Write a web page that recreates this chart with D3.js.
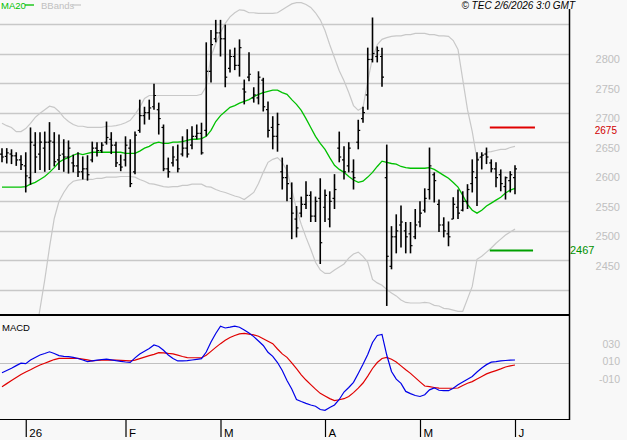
<!DOCTYPE html>
<html><head><meta charset="utf-8">
<script src="https://cdn.jsdelivr.net/npm/d3@7"></script>
<style>body{margin:0;background:#f8f8f8}svg{display:block;font-family:"Liberation Sans",Arial,sans-serif}</style>
</head><body>
<script>
// ---- data (bar index 0..108, late Dec 2025 .. 1 Jun 2026) ----
const open  = [2630,2626,2630,2627,2620,2610,2590,2645,2630,2640, 2650,2650,2620,2630,2625,2615,2610,2600,2605,2620, 2640,2636,2650,2655,2645,2612,2620,2640,2600,2670, 2695,2700,2710,2705,2675,2605,2615,2620,2630,2640, 2645,2660,2665,2670,2770,2825,2835,2825,2775,2795, 2780,2740,2760,2725,2725,2755,2705,2675,2660,2600, 2590,2555,2520,2530,2545,2560,2525,2555,2540,2520, 2555,2640,2620,2610,2600,2650,2690,2730,2790,2795, 2795,2590,2440,2490,2510,2500,2495,2490,2515,2535, 2570,2595,2545,2510,2495,2520,2540,2535,2550,2580, 2590,2625,2630,2615,2605,2595,2575,2585,2590];
const high  = [2640,2640,2638,2633,2628,2633,2675,2667,2667,2668, 2684,2667,2663,2655,2653,2629,2633,2626,2628,2651, 2650,2650,2685,2667,2651,2629,2660,2655,2668,2722, 2710,2722,2749,2717,2680,2624,2643,2646,2660,2672, 2677,2680,2683,2819,2840,2857,2857,2849,2807,2810, 2824,2756,2802,2743,2770,2759,2719,2694,2700,2624, 2612,2582,2542,2558,2584,2567,2558,2589,2570,2567, 2596,2668,2643,2650,2621,2688,2710,2810,2861,2812, 2810,2646,2508,2528,2543,2515,2515,2537,2550,2572, 2641,2599,2553,2523,2516,2557,2570,2567,2579,2621, 2633,2633,2641,2621,2616,2604,2592,2601,2611];
const low   = [2616,2614,2613,2610,2603,2565,2578,2598,2603,2600, 2603,2609,2603,2600,2597,2599,2591,2587,2585,2616, 2626,2632,2646,2630,2608,2601,2609,2574,2596,2666, 2680,2688,2705,2663,2601,2590,2609,2599,2626,2624, 2638,2655,2629,2660,2751,2819,2795,2743,2768,2772, 2761,2714,2753,2717,2714,2702,2658,2638,2634,2570, 2550,2486,2489,2523,2537,2515,2515,2444,2515,2506, 2537,2616,2587,2599,2570,2638,2683,2705,2785,2785, 2744,2373,2435,2462,2472,2462,2462,2486,2506,2531, 2553,2548,2498,2489,2474,2520,2520,2533,2537,2565, 2542,2604,2613,2599,2574,2567,2553,2565,2562];
const close = [2625,2632,2627,2620,2612,2593,2650,2625,2650,2650, 2652,2617,2628,2625,2640,2610,2600,2605,2595,2640, 2636,2645,2658,2645,2615,2608,2645,2580,2662,2695, 2700,2708,2729,2690,2605,2600,2625,2605,2640,2630, 2660,2665,2632,2770,2815,2835,2825,2760,2795,2780, 2810,2735,2765,2730,2760,2710,2670,2660,2680,2590, 2580,2530,2505,2545,2560,2525,2550,2480,2560,2550, 2570,2625,2600,2640,2590,2670,2700,2790,2800,2805, 2760,2457,2490,2500,2515,2490,2475,2510,2530,2555, 2610,2585,2510,2500,2490,2545,2530,2550,2570,2600, 2620,2628,2625,2605,2590,2580,2590,2595,2605];
const ma20  = [2574,2574,2574,2574,2574,2575,2579,2582,2587,2592, 2599,2607,2616,2621,2624,2628,2631,2629,2631,2633, 2633,2633,2633,2633,2633,2633,2631,2631,2631,2635, 2640,2643,2648,2650,2648,2648,2650,2650,2651,2653, 2655,2655,2656,2660,2670,2685,2695,2702,2709,2712, 2716,2719,2722,2727,2731,2734,2736,2738,2738,2734, 2731,2722,2714,2704,2690,2675,2660,2648,2638,2624, 2611,2604,2599,2592,2586,2582,2584,2591,2599,2609, 2618,2616,2614,2613,2609,2607,2606,2606,2606,2606, 2607,2604,2599,2594,2589,2582,2574,2560,2545,2535, 2530,2535,2542,2547,2552,2557,2564,2569,2572];
const bbUpper = [2682,2678,2675,2668,2668,2673,2682,2692,2699,2705, 2711,2709,2702,2692,2685,2680,2677,2677,2675,2675, 2675,2675,2677,2677,2678,2680,2683,2687,2697,2709, 2724,2729,2729,2729,2729,2729,2729,2729,2729,2729, 2729,2729,2731,2744,2795,2817,2836,2851,2862,2869, 2874,2873,2869,2869,2868,2868,2868,2868,2869,2874, 2879,2884,2886,2886,2883,2878,2869,2857,2839,2815, 2793,2771,2754,2734,2712,2704,2709,2753,2793,2815, 2824,2827,2829,2830,2830,2832,2832,2834,2834,2834, 2832,2832,2830,2830,2829,2822,2807,2756,2705,2668, 2621,2626,2633,2634,2636,2638,2638,2641,2643];
const bbLower = [null,null,null,null,null,null,2271,2320,2368,2417, 2472,2521,2550,2565,2577,2584,2586,2587,2587,2587, 2589,2589,2591,2591,2591,2592,2592,2592,2591,2587, 2584,2580,2579,2577,2575,2574,2575,2575,2577,2577, 2579,2579,2579,2575,2574,2570,2567,2565,2562,2559, 2557,2553,2559,2565,2580,2599,2616,2621,2624,2616, 2602,2570,2537,2511,2489,2469,2447,2434,2428,2428, 2434,2439,2444,2454,2461,2464,2457,2447,2418,2412, 2408,2401,2395,2390,2383,2379,2378,2378,2378,2379, 2378,2374,2373,2369,2368,2366,2364,2364,2385,2406, 2452,2457,2464,2471,2479,2486,2493,2498,2503];
const macd = [-0.105,-0.080,-0.054,-0.024,0.003,-0.002,0.040,0.069,0.097,0.114, 0.134,0.114,0.090,0.082,0.079,0.069,0.057,0.040,0.022,0.031, 0.039,0.046,0.050,0.041,0.032,0.025,0.017,0.013,0.064,0.109, 0.141,0.171,0.211,0.194,0.151,0.097,0.057,0.029,0.031,0.032, 0.040,0.048,0.055,0.131,0.246,0.343,0.426,0.406,0.415,0.428, 0.415,0.383,0.349,0.307,0.257,0.206,0.128,0.081,0.011,-0.080, -0.194,-0.291,-0.411,-0.434,-0.455,-0.474,-0.489,-0.526,-0.535,-0.502, -0.474,-0.411,-0.326,-0.274,-0.215,-0.114,-0.009,0.103,0.241,0.321, 0.333,0.097,-0.091,-0.179,-0.227,-0.319,-0.344,-0.366,-0.377,-0.357, -0.301,-0.278,-0.306,-0.311,-0.311,-0.283,-0.243,-0.211,-0.179,-0.149, -0.097,-0.051,-0.013,0.015,0.021,0.031,0.034,0.038,0.040];
const signal = [-0.265,-0.230,-0.194,-0.160,-0.126,-0.097,-0.071,-0.043,-0.017,0.003, 0.024,0.045,0.059,0.059,0.059,0.059,0.059,0.051,0.042,0.031, 0.034,0.037,0.039,0.040,0.038,0.035,0.032,0.030,0.038,0.056, 0.073,0.090,0.105,0.125,0.122,0.115,0.110,0.095,0.080,0.067, 0.066,0.066,0.066,0.094,0.139,0.184,0.227,0.265,0.298,0.320, 0.338,0.344,0.336,0.327,0.312,0.283,0.255,0.227,0.166,0.110, 0.070,0.008,-0.059,-0.129,-0.189,-0.241,-0.293,-0.341,-0.371,-0.401, -0.424,-0.414,-0.402,-0.377,-0.333,-0.282,-0.223,-0.144,-0.057,0.011, 0.057,0.070,0.049,0.018,-0.027,-0.072,-0.113,-0.162,-0.210,-0.257, -0.265,-0.274,-0.282,-0.283,-0.283,-0.283,-0.280,-0.251,-0.226,-0.207, -0.178,-0.149,-0.119,-0.099,-0.081,-0.062,-0.040,-0.027,-0.017];
const xTickIndex  = [5, 26, 46, 68, 88, 108];
const xTickLabels = ["26", "F", "M", "A", "M", "J"];
const priceGrid   = [2400,2450,2500,2550,2600,2650,2700,2750,2800,2850];
const priceLabels = [2450,2500,2550,2600,2650,2700,2750,2800];
const macdTicks   = [0.30, 0.10, -0.10];
const macdTickLabels = ["030", "010", "-010"];
const resistance = 2675, support = 2467;
const legendItems = ["MA20", "BBands"];
const stamp = "© TEC 2/6/2026 3:0 GMT";

// ---- drawing ----
const W = 627, H = 440;
const plotR = 569, mainBottom = 315, macdBottom = 419;
const svg = d3.select("body").append("svg").attr("width", W).attr("height", H);
svg.append("rect").attr("width", W).attr("height", H).attr("fill", "#f8f8f8");

const idx = d3.range(close.length);
const x = d3.scaleLinear().domain([0, 108]).range([2, 515]);
const y = d3.scaleLinear().domain([2400, 2850]).range([290, 24]);
const ym = d3.scaleLinear().domain([0, 0.3]).range([363.5, 337.25]);

const defs = svg.append("defs");
defs.append("clipPath").attr("id", "cmain").append("rect").attr("x", 0).attr("y", 0).attr("width", plotR).attr("height", mainBottom);
defs.append("clipPath").attr("id", "cmacd").append("rect").attr("x", 0).attr("y", mainBottom).attr("width", plotR).attr("height", macdBottom - mainBottom);

// grid
svg.append("g").selectAll("line").data(priceGrid).join("line")
  .attr("x1", 0).attr("x2", plotR).attr("y1", d => Math.round(y(d)) + 0.5).attr("y2", d => Math.round(y(d)) + 0.5)
  .attr("stroke", "#c8c8c8").attr("stroke-width", 1.3);

const main = svg.append("g").attr("clip-path", "url(#cmain)");
const lineGen = arr => d3.line().defined(i => arr[i] != null).x(i => x(i)).y(i => y(arr[i]))(idx);
main.append("path").attr("d", lineGen(bbUpper)).attr("fill", "none").attr("stroke", "#c8c8c8").attr("stroke-width", 1.2);
main.append("path").attr("d", lineGen(bbLower)).attr("fill", "none").attr("stroke", "#c8c8c8").attr("stroke-width", 1.2);
main.append("path").attr("d", lineGen(ma20)).attr("fill", "none").attr("stroke", "#00c000").attr("stroke-width", 1.3);

// OHLC bars
const bars = main.append("g").attr("stroke", "#000").attr("stroke-width", 1.6);
idx.forEach(i => {
  const cx = x(i);
  bars.append("line").attr("x1", cx).attr("x2", cx).attr("y1", y(high[i])).attr("y2", y(low[i]));
  bars.append("line").attr("x1", cx - 2).attr("x2", cx).attr("y1", y(open[i])).attr("y2", y(open[i])).attr("stroke-width", 1.2);
  bars.append("line").attr("x1", cx).attr("x2", cx + 2).attr("y1", y(close[i])).attr("y2", y(close[i])).attr("stroke-width", 1.2);
});

// resistance / support markers
svg.append("line").attr("x1", x(102.7)).attr("x2", x(112.2)).attr("y1", y(resistance)).attr("y2", y(resistance))
  .attr("stroke", "#e00000").attr("stroke-width", 2);
svg.append("line").attr("x1", x(102.7)).attr("x2", x(111.8)).attr("y1", y(support)).attr("y2", y(support))
  .attr("stroke", "#00a000").attr("stroke-width", 2);
svg.append("text").attr("x", 617).attr("y", y(resistance) + 7).attr("text-anchor", "end")
  .attr("font-size", 10).attr("fill", "#d00000").text(resistance);
svg.append("text").attr("x", 570).attr("y", y(support) + 3.5)
  .attr("font-size", 11).attr("fill", "#009000").text(support);

// price axis labels
const yAxis = d3.axisLeft(y).tickValues(priceLabels).tickSize(0).tickPadding(0).tickFormat(d3.format("d"));
const ga = svg.append("g").attr("transform", "translate(620,0)").call(yAxis);
ga.select(".domain").remove();
ga.selectAll("text").attr("dy", 9).attr("fill", "#c0c0c0").attr("font-size", 11).attr("font-family", null);

// MACD panel
svg.append("line").attr("x1", 0).attr("x2", plotR).attr("y1", ym(0)).attr("y2", ym(0)).attr("stroke", "#c0c0c0").attr("stroke-width", 1);
const mg = svg.append("g").attr("clip-path", "url(#cmacd)");
const mline = arr => d3.line().x(i => x(i)).y(i => ym(arr[i]))(idx);
mg.append("path").attr("d", mline(signal)).attr("fill", "none").attr("stroke", "#e00000").attr("stroke-width", 1.2);
mg.append("path").attr("d", mline(macd)).attr("fill", "none").attr("stroke", "#0000e8").attr("stroke-width", 1.2);
const mAxis = d3.axisLeft(ym).tickValues(macdTicks).tickSize(0).tickPadding(0).tickFormat((d, i) => macdTickLabels[i]);
const gm = svg.append("g").attr("transform", "translate(620,0)").call(mAxis);
gm.select(".domain").remove();
gm.selectAll("text").attr("dy", 10).attr("fill", "#c0c0c0").attr("font-size", 10.5).attr("font-family", null);
svg.append("text").attr("x", 2).attr("y", 331).attr("font-size", 9.5).attr("fill", "#000").text("MACD");

// frame lines
svg.append("line").attr("x1", 0).attr("x2", plotR).attr("y1", mainBottom).attr("y2", mainBottom).attr("stroke", "#000").attr("stroke-width", 2);
svg.append("line").attr("x1", 0).attr("x2", plotR + 0.5).attr("y1", macdBottom + 0.5).attr("y2", macdBottom + 0.5).attr("stroke", "#000").attr("stroke-width", 1);
svg.append("line").attr("x1", plotR + 0.5).attr("x2", plotR + 0.5).attr("y1", 9).attr("y2", macdBottom + 1).attr("stroke", "#000").attr("stroke-width", 1.5);

// x axis
const xAxis = d3.axisBottom(x).tickValues(xTickIndex).tickSize(18).tickFormat((d, i) => xTickLabels[i]);
const gx = svg.append("g").attr("transform", `translate(0,${macdBottom})`).call(xAxis);
gx.select(".domain").remove();
gx.selectAll(".tick line").attr("stroke", "#000").attr("stroke-width", 1.2);
gx.selectAll("text").attr("x", 3).attr("y", 18).attr("dy", 0).attr("text-anchor", "start")
  .attr("font-size", 11.5).attr("fill", "#000").attr("font-family", null);

// legend
const lg = svg.append("g").attr("font-size", 9.5);
lg.append("text").attr("x", 1).attr("y", 9).attr("fill", "#00c000").text(legendItems[0]);
lg.append("line").attr("x1", 25).attr("x2", 34).attr("y1", 5).attr("y2", 5).attr("stroke", "#00c000").attr("stroke-width", 1.3);
lg.append("text").attr("x", 41).attr("y", 9).attr("fill", "#c0c0c0").text(legendItems[1]);
lg.append("line").attr("x1", 72).attr("x2", 81).attr("y1", 5).attr("y2", 5).attr("stroke", "#c8c8c8").attr("stroke-width", 1.3);

// stamp
svg.append("text").attr("x", 575).attr("y", 9).attr("text-anchor", "end").attr("font-size", 10)
  .attr("font-style", "italic").attr("fill", "#000").text(stamp);
</script>
</body></html>
